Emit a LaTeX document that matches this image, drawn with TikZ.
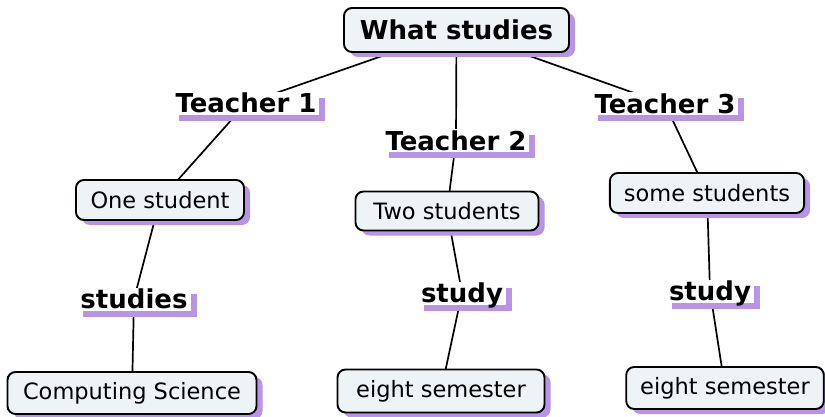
\documentclass[tikz,border=0pt]{standalone}
\usepackage{fontspec}
\setmainfont{DejaVu Sans}
\usetikzlibrary{shadows}
\definecolor{lav}{HTML}{B894E6}
\definecolor{boxc}{HTML}{EEF3F5}
\pgfdeclarelayer{background}
\pgfsetlayers{background,main}
\tikzset{
  cbox/.style={draw=black, line width=1.9pt, rounded corners=8pt, fill=boxc,
    general shadow={fill=lav, shadow xshift=6pt, shadow yshift=-5pt},
    minimum height=40pt, inner xsep=14pt, inner ysep=2pt,
    font=\fontsize{22.5}{26}\selectfont},
  rootbox/.style={cbox, minimum height=44pt, font=\bfseries\fontsize{26}{30}\selectfont},
  lbl/.style={fill=white, general shadow={fill=lav, shadow xshift=6pt, shadow yshift=-6pt},
    font=\bfseries\fontsize{26}{30}\selectfont, text height=19pt, text depth=0pt,
    inner xsep=3pt, inner ysep=2pt},
  conn/.style={draw=black, line width=1.7pt}
}
\begin{document}
\begin{tikzpicture}[x=1pt,y=-1pt]
\useasboundingbox (0,0) rectangle (825,417);
\node[rootbox, minimum width=225pt] (root) at (456.5,30) {What studies};
\node[lbl] (t1) at (246,103.5) {Teacher 1};
\node[lbl] (t2) at (456,141) {Teacher 2};
\node[lbl] (t3) at (665,104) {Teacher 3};
\node[cbox, minimum width=168pt] (one) at (160,200) {One student};
\node[cbox, minimum width=183pt, minimum height=39pt] (two) at (447,211) {Two students};
\node[cbox, minimum width=191pt] (some) at (707,193) {some students};
\node[lbl] (s1) at (134,299) {studies};
\node[lbl] (s2) at (462,293) {study};
\node[lbl] (s3) at (710,291) {study};
\node[cbox, minimum width=249pt, minimum height=42pt] (cs) at (132,393) {Computing Science};
\node[cbox, minimum width=207pt, minimum height=43pt] (e2) at (441,391) {eight semester};
\node[cbox, minimum width=190pt, minimum height=42pt] (e3) at (725,388) {eight semester};
\begin{pgfonlayer}{background}
\draw[conn] (root.center) -- (t1.center);
\draw[conn] (root.center) -- (t2.center);
\draw[conn] (root.center) -- (t3.center);
\draw[conn] (t1.center) -- (one.center);
\draw[conn] (t2.center) -- (two.center);
\draw[conn] (t3.center) -- (some.center);
\draw[conn] (one.center) -- (s1.center);
\draw[conn] (two.center) -- (s2.center);
\draw[conn] (some.center) -- (s3.center);
\draw[conn] (s1.center) -- (cs.center);
\draw[conn] (s2.center) -- (e2.center);
\draw[conn] (s3.center) -- (e3.center);
\end{pgfonlayer}
\end{tikzpicture}
\end{document}
